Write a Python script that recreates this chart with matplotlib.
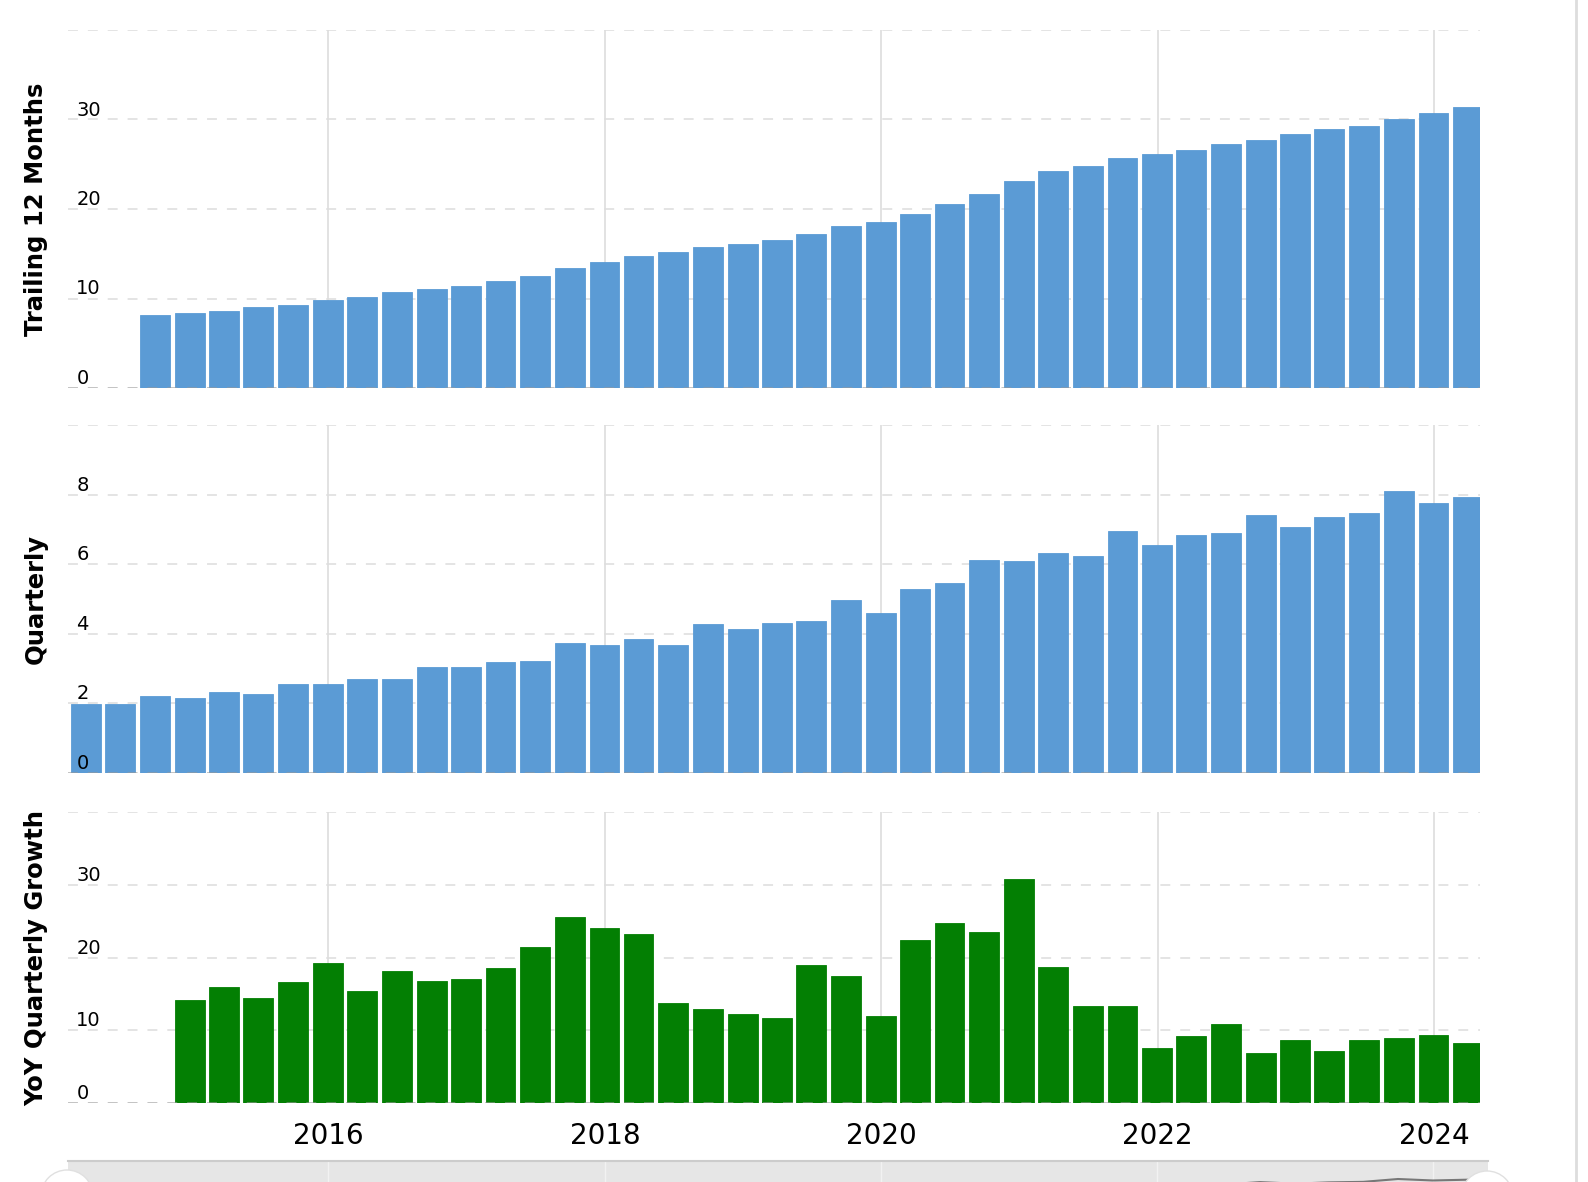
import numpy as np
import pandas as pd
import matplotlib
matplotlib.use("Agg")
import matplotlib.pyplot as plt
from matplotlib.patches import Circle

plt.rcParams["font.family"] = ["DejaVu Sans"]

# quarter end dates, Q1 2014 .. Q1 2024
quarters = [f"{y}-{md}" for y in range(2014, 2025)
            for md in ("03-31", "06-30", "09-30", "12-31")][:41]

quarterly = [1.99, 1.99, 2.22, 2.16, 2.34, 2.28, 2.57, 2.57, 2.69, 2.69,
             3.04, 3.04, 3.18, 3.23, 3.75, 3.69, 3.86, 3.69, 4.27, 4.15,
             4.32, 4.38, 4.96, 4.61, 5.30, 5.47, 6.11, 6.08, 6.31, 6.25,
             6.95, 6.54, 6.83, 6.89, 7.42, 7.07, 7.36, 7.47, 8.09, 7.77,
             7.94]

# trailing 12 months starts at the 3rd quarter shown
ttm = [8.2, 8.4, 8.6, 9.1, 9.3, 9.8, 10.2, 10.7, 11.1, 11.4,
       12.0, 12.5, 13.4, 14.1, 14.7, 15.2, 15.7, 16.1, 16.5, 17.2,
       18.1, 18.5, 19.4, 20.6, 21.7, 23.1, 24.2, 24.8, 25.7, 26.1,
       26.6, 27.3, 27.7, 28.4, 28.9, 29.3, 30.0, 30.7, 31.4]

# yoy growth starts at the 4th quarter shown
yoy = [14.2, 16.0, 14.4, 16.7, 19.3, 15.4, 18.2, 16.8, 17.1, 18.5,
       21.5, 25.6, 24.0, 23.2, 13.75, 12.9, 12.2, 11.7, 19.0, 17.4,
       11.9, 22.4, 24.7, 23.5, 30.8, 18.75, 13.3, 13.3, 7.5, 9.2,
       10.8, 6.9, 8.6, 7.2, 8.6, 8.9, 9.4, 8.3]

ttm_ticks = [0, 10, 20, 30, 40]
ttm_labels = ["0", "10", "20", "30", ""]
q_ticks = [0, 2, 4, 6, 8, 10]
q_labels = ["0", "2", "4", "6", "8", ""]
yoy_ticks = [0, 10, 20, 30, 40]
yoy_labels = ["0", "10", "20", "30", ""]
year_ticks = ["2016-01-01", "2018-01-01", "2020-01-01", "2022-01-01", "2024-01-01"]
year_labels = ["2016", "2018", "2020", "2022", "2024"]

dates = pd.to_datetime(quarters)
years = pd.to_datetime(year_ticks)
W, H = 1588, 1182
fig = plt.figure(figsize=(W / 100, H / 100), dpi=100)


def px_box(x0, y0, x1, y1):
    return [x0 / W, 1 - y1 / H, (x1 - x0) / W, (y1 - y0) / H]


BLUE = "#5b9bd5"
GREEN = "#037f03"
xlim = (pd.Timestamp("2014-02-12"), pd.Timestamp("2024-05-02"))
bar_w = 79
DASH = (0, (6.5, 6.5))

panels = [
    (px_box(68, 30, 1480, 388), dates[2:], ttm, BLUE, ttm_ticks, ttm_labels,
     "Trailing 12 Months"),
    (px_box(68, 425, 1480, 773), dates, quarterly, BLUE, q_ticks, q_labels,
     "Quarterly"),
    (px_box(68, 812, 1480, 1103), dates[3:], yoy, GREEN, yoy_ticks, yoy_labels,
     "YoY Quarterly Growth"),
]

axes = []
for box, x, vals, col, ticks, labels, name in panels:
    ax = fig.add_axes(box)
    ax.set_axisbelow(False)
    ax.bar(x, vals, width=bar_w, color=col, edgecolor=col, linewidth=0.6,
           zorder=2)
    ax.set_xlim(xlim)
    ax.set_ylim(ticks[0], ticks[-1])
    for s in ax.spines.values():
        s.set_visible(False)
    ax.set_yticks(ticks, labels, ha="left", va="bottom", fontsize=14)
    ax.tick_params(axis="y", length=0, pad=-6)
    ax.set_xticks(years)
    ax.tick_params(axis="x", length=0)
    ax.set_xticklabels([])
    for t in ticks[1:]:
        ax.axhline(t, color="#dddddd", lw=1.1, ls=DASH, zorder=1)
    for yr in years:
        ax.axvline(yr, color="#dddddd", lw=1.2, zorder=0.5)
    ax.axhline(0, color="#999999", lw=1.1, ls=DASH, alpha=0.75, zorder=3)
    ax.set_ylabel(name, fontsize=17.5, fontweight="bold")
    ax.yaxis.set_label_coords(-0.0142, 0.5)
    axes.append(ax)

axes[-1].set_xticklabels(year_labels, fontsize=20)
axes[-1].tick_params(axis="x", pad=14)

# navigator strip at the bottom
nav = fig.add_axes(px_box(68, 1161, 1488, 1182))
nav.set_facecolor("#e6e6e6")
nav.set_xlim(xlim[0], pd.Timestamp("2024-05-25"))
nav.plot(dates, quarterly, color="#777777", lw=1.5)
nav.set_ylim(7.44, 12)
for yr in years:
    nav.axvline(yr, color="#f2f2f2", lw=1, zorder=0.5)
nav.set_xticks([])
nav.set_yticks([])
for s in nav.spines.values():
    s.set_visible(False)
nav.spines["top"].set_visible(True)
nav.spines["top"].set_color("#cccccc")
nav.spines["top"].set_linewidth(1.5)

# handles and right border
fig.patches.append(Circle((67, H - 1196), 26, transform=None,
                          facecolor="white", edgecolor="#e0e0e0", lw=1))
fig.patches.append(Circle((1487, H - 1197), 26, transform=None,
                          facecolor="white", edgecolor="#e0e0e0", lw=1))
fig.add_artist(plt.Line2D([1576 / W, 1576 / W], [0, 1], color="#dddddd",
                          lw=2, transform=fig.transFigure))

fig.savefig("out.png", dpi=100, facecolor="white")
